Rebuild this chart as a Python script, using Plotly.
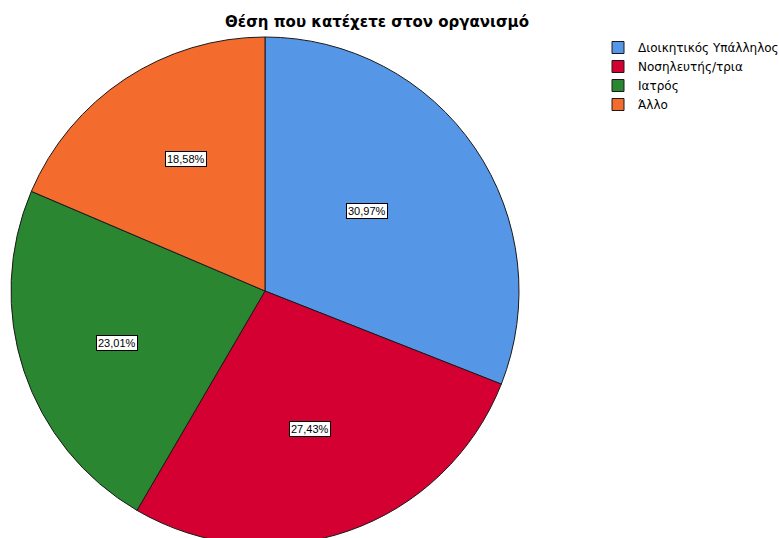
import math
import plotly.graph_objects as go

# Respondents by position held in the organisation
categories = ["Διοικητικός Υπάλληλος", "Νοσηλευτής/τρια", "Ιατρός", "Άλλο"]
counts = [70, 62, 52, 42]
colors = ["#5596E6", "#D50032", "#2A8630", "#F36B2D"]

W, H = 779, 556
CX, CY, R = 265, 291, 254          # pie centre and radius in pixels
label_radius = [0.51, 0.57, 0.616, 0.605]  # label distance as a share of the radius
label_turn = [-4.0, 1.0, -1.0, 2.5]        # small angular nudge of each label, degrees

total = sum(counts)
pct = [c / total * 100 for c in counts]
pct_text = [f"{p:.2f}".replace(".", ",") + "%" for p in pct]

fig = go.Figure(
    go.Pie(
        labels=categories,
        values=counts,
        sort=False,
        direction="clockwise",
        rotation=0,
        marker=dict(colors=colors, line=dict(color="#1a1a1a", width=1)),
        textinfo="none",
        hoverinfo="label+percent",
        domain=dict(x=[(CX - R) / W, (CX + R) / W],
                    y=[(H - CY - R) / H, (H - CY + R) / H]),
    )
)

# boxed percentage labels placed around each slice's mid angle
annotations = []
cum = 0.0
for p, t, f, d in zip(pct, pct_text, label_radius, label_turn):
    mid = math.radians((cum + p / 2) / 100 * 360 + d)
    cum += p
    px = CX + f * R * math.sin(mid)
    py = CY - f * R * math.cos(mid)
    annotations.append(dict(
        x=px / W, y=1 - py / H, xref="paper", yref="paper",
        xanchor="center", yanchor="middle",
        text=t, showarrow=False,
        font=dict(family="Liberation Sans, Arial", size=11, color="#000000"),
        bgcolor="#FFFFFF", bordercolor="#000000", borderwidth=1, borderpad=1,
    ))

fig.update_layout(
    width=W, height=H,
    margin=dict(l=0, r=0, t=0, b=0, autoexpand=False),
    paper_bgcolor="#FFFFFF",
    plot_bgcolor="#FFFFFF",
    title=dict(text="<b>Θέση που κατέχετε στον οργανισμό</b>",
               x=377 / W, xanchor="center", y=1 - 22 / H, yanchor="middle",
               font=dict(family="DejaVu Sans", size=15, color="#000000")),
    legend=dict(x=598 / W, y=1 - 33 / H, xanchor="left", yanchor="top",
                xref="container", yref="container",
                font=dict(family="DejaVu Sans", size=12, color="#000000"),
                bgcolor="rgba(0,0,0,0)", traceorder="normal"),
    annotations=annotations,
)

fig.write_html("out.html",
               post_script="document.documentElement.style.overflow='hidden';document.body.style.overflow='hidden';")
